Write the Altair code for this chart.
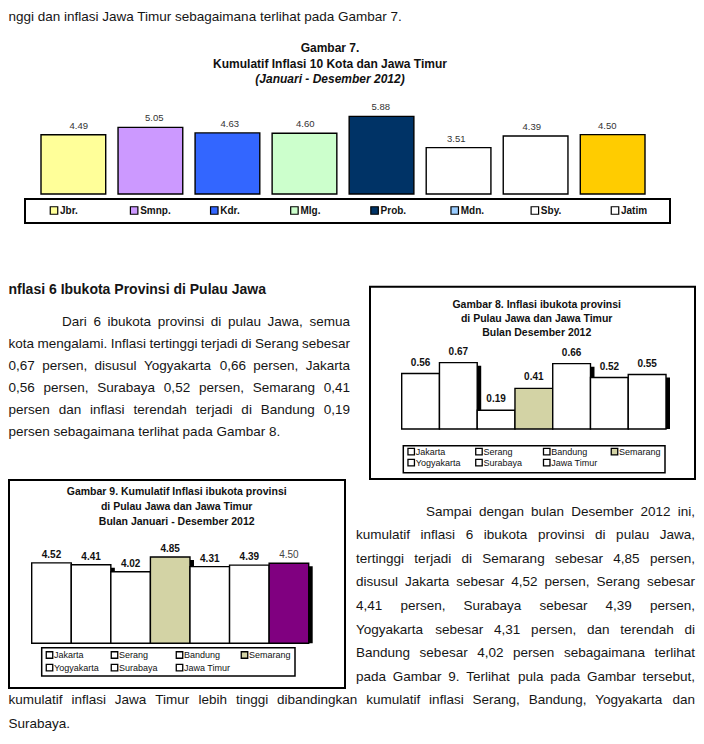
import altair as alt
import pandas as pd

# ------------------------------------------------------------------ data
g7_kota = ["Jbr.", "Smnp.", "Kdr.", "Mlg.", "Prob.", "Mdn.", "Sby.", "Jatim"]
g7_nilai = [4.49, 5.05, 4.63, 4.60, 5.88, 3.51, 4.39, 4.50]
g7_warna_batang = ["#FFFF99", "#CC99FF", "#3366FF", "#CCFFCC", "#003366", "#FFFFFF", "#FFFFFF", "#FFCC00"]
g7_warna_legenda = ["#FFFF99", "#CC99FF", "#3366FF", "#CCFFCC", "#003366", "#99CCFF", "#FFFFFF", "#FFFFFF"]
g7_judul = ["Gambar  7.", "Kumulatif Inflasi 10 Kota dan Jawa Timur"]
g7_subjudul = "(Januari - Desember 2012)"

ibukota = ["Jakarta", "Serang", "Bandung", "Semarang", "Yogyakarta", "Surabaya", "Jawa Timur"]
g8_nilai = [0.56, 0.67, 0.19, 0.41, 0.66, 0.52, 0.55]
g9_nilai = [4.52, 4.41, 4.02, 4.85, 4.31, 4.39, 4.50]
g8_warna = ["#FFFFFF", "#FFFFFF", "#FFFFFF", "#D3D3A5", "#FFFFFF", "#FFFFFF", "#FFFFFF"]
g9_warna = ["#FFFFFF", "#FFFFFF", "#FFFFFF", "#D3D3A5", "#FFFFFF", "#FFFFFF", "#800080"]
legenda_warna = ["#FFFFFF", "#FFFFFF", "#FFFFFF", "#D3D3A5", "#FFFFFF", "#FFFFFF", "#FFFFFF"]
g8_judul = ["Gambar 8.  Inflasi ibukota provinsi", "di Pulau Jawa dan Jawa Timur", "Bulan Desember 2012"]
g9_judul = ["Gambar 9.  Kumulatif Inflasi ibukota provinsi", "di Pulau Jawa dan Jawa Timur",
            "Bulan Januari - Desember 2012"]

teks_atas = "nggi dan inflasi Jawa Timur sebagaimana terlihat pada Gambar 7."
judul_bagian = "nflasi 6 Ibukota Provinsi di Pulau Jawa"
paragraf_1 = [
    "Dari 6 ibukota provinsi di pulau Jawa, semua",
    "kota mengalami. Inflasi tertinggi terjadi di Serang sebesar",
    "0,67 persen, disusul Yogyakarta 0,66 persen, Jakarta",
    "0,56 persen, Surabaya 0,52 persen, Semarang 0,41",
    "persen dan inflasi terendah terjadi di Bandung 0,19",
    "persen  sebagaimana terlihat pada Gambar 8.",
]
paragraf_2 = [
    "Sampai dengan bulan Desember 2012 ini,",
    "kumulatif inflasi 6 ibukota provinsi di pulau Jawa,",
    "tertinggi terjadi di Semarang sebesar 4,85 persen,",
    "disusul Jakarta sebesar 4,52 persen, Serang sebesar",
    "4,41 persen, Surabaya sebesar 4,39 persen,",
    "Yogyakarta sebesar 4,31 persen, dan terendah di",
    "Bandung sebesar 4,02 persen sebagaimana terlihat",
    "pada Gambar 9. Terlihat pula pada Gambar tersebut,",
]
paragraf_3 = [
    "kumulatif inflasi Jawa Timur lebih tinggi dibandingkan kumulatif inflasi Serang, Bandung, Yogyakarta dan",
    "Surabaya.",
]

# ------------------------------------------------------------------ layout helpers
FONT = "Liberation Sans"
W, H = 688, 728


def px(v):
    """page pixel -> chart pixel (page has an 8px margin)"""
    return v - 8


AW = {" ": 278, ",": 278, ".": 278, "-": 333, "(": 333, ")": 333, ":": 278}
for c in "0123456789":
    AW[c] = 556
AW.update(dict(zip("abcdefghijklmnopqrstuvwxyz",
                   [556, 556, 500, 556, 556, 278, 556, 556, 222, 222, 500, 222, 833,
                    556, 556, 556, 556, 333, 500, 278, 556, 500, 722, 500, 500, 500])))
AW.update(dict(zip("ABCDEFGHIJKLMNOPQRSTUVWXYZ",
                   [667, 667, 722, 722, 667, 611, 778, 722, 278, 500, 667, 556, 833,
                    722, 778, 667, 778, 722, 667, 611, 722, 667, 944, 667, 667, 611])))


def tw(s, fs):
    return sum(AW.get(c, 556) for c in s) * fs / 1000.0


BODY_FS = 13.5


def lay_line(text, left, right, y, justify):
    words = text.split()
    if not justify or len(words) < 2:
        return [dict(t=text, x=left, y=y)]
    ws = [tw(w, BODY_FS) for w in words]
    gap = (right - left - sum(ws)) / (len(words) - 1)
    out, x = [], left
    for w, wd in zip(words, ws):
        out.append(dict(t=w, x=x, y=y))
        x += wd + gap
    return out


rows = []
rows += lay_line(teks_atas, 0.5, 0, px(17), False)
# paragraph 1 (left column)
p1_left = [px(62), 0.5, 0.5, 0.5, 0.5, 0.5]
for i, line in enumerate(paragraf_1):
    rows += lay_line(line, p1_left[i], px(350), px(321.7 + 22 * i), i < len(paragraf_1) - 1)
# paragraph 2 (right column)
for i, line in enumerate(paragraf_2):
    rows += lay_line(line, px(426) if i == 0 else px(356), W - 1, px(511.5 + 23.6 * i), True)
# paragraph 3 (full width)
for i, line in enumerate(paragraf_3):
    rows += lay_line(line, 0.5, W - 1, px(511.5 + 23.6 * (8 + i)), i == 0)
body_df = pd.DataFrame(rows)

body = alt.Chart(body_df).mark_text(
    font=FONT, fontSize=BODY_FS, align="left", baseline="middle", color="#151515"
).encode(x=alt.X("x:Q", scale=None, axis=None), y=alt.Y("y:Q", scale=None, axis=None), text="t:N")

heading = alt.Chart(pd.DataFrame([dict(t=judul_bagian, x=0.5, y=px(290))])).mark_text(
    font=FONT, fontSize=14, fontWeight="bold", align="left", baseline="middle", color="#151515"
).encode(x=alt.X("x:Q", scale=None, axis=None), y=alt.Y("y:Q", scale=None, axis=None), text="t:N")

# ------------------------------------------------------------------ frames
boxes = pd.DataFrame([
    dict(x1=px(25), x2=px(670), y1=px(199), y2=px(223), sw=2.0),      # legend Gambar 7
    dict(x1=px(370), x2=W - 1, y1=px(286.7), y2=px(479), sw=2.0),     # frame Gambar 8
    dict(x1=px(403.3), x2=px(665), y1=px(445.7), y2=px(472.7), sw=1.5),  # legend Gambar 8
    dict(x1=1, x2=px(345), y1=px(480), y2=px(688), sw=2.0),            # frame Gambar 9
    dict(x1=px(41.7), x2=px(295), y1=px(647.7), y2=px(676), sw=1.5),   # legend Gambar 9
])
frames = alt.Chart(boxes).mark_rect(fillOpacity=0, stroke="black").encode(
    x=alt.X("x1:Q", scale=None, axis=None), x2="x2:Q",
    y=alt.Y("y1:Q", scale=None, axis=None), y2="y2:Q",
    strokeWidth=alt.StrokeWidth("sw:Q", scale=None),
)


def title_layer(lines, cx, ys, fs, italic=False):
    df = pd.DataFrame(dict(t=lines, x=[cx] * len(lines), y=ys))
    kw = dict(fontStyle="italic") if italic else {}
    return alt.Chart(df).mark_text(font=FONT, fontSize=fs, fontWeight="bold", align="center",
                                   baseline="middle", color="#111", **kw).encode(
        x=alt.X("x:Q", scale=None, axis=None), y=alt.Y("y:Q", scale=None, axis=None), text="t:N")


# ------------------------------------------------------------------ Gambar 7
df7 = pd.DataFrame({"kota": g7_kota, "nilai": g7_nilai, "warna": g7_warna_batang,
                    "lwarna": g7_warna_legenda})
x7 = alt.X("kota:N", axis=None,
           scale=alt.Scale(domain=g7_kota, range=[px(41), px(645)], paddingInner=0.16, paddingOuter=0))
y7 = alt.Y("nilai:Q", axis=None,
           scale=alt.Scale(domain=[0, 6], range=[px(194), px(194 - 6 * 13.2)], nice=False))
bar7 = alt.Chart(df7).mark_bar(stroke="black", strokeWidth=1.4).encode(
    x=x7, y=y7, fill=alt.Fill("warna:N", scale=None))
lab7 = alt.Chart(df7).mark_text(font=FONT, dy=-9, fontSize=9.5, color="#333").encode(
    x=x7, y=y7, text=alt.Text("nilai:Q", format=".2f"))
lx7 = alt.X("kota:N", axis=None,
            scale=alt.Scale(type="point", domain=g7_kota, range=[px(54), px(615)], padding=0))
ly7 = alt.Y("r:Q", axis=None, scale=None)
leg7_sq = alt.Chart(df7).transform_calculate(r=str(px(210.5))).mark_square(
    size=56, stroke="black", strokeWidth=1.2, opacity=1).encode(
    x=lx7, y=ly7, fill=alt.Fill("lwarna:N", scale=None))
leg7_tx = alt.Chart(df7).transform_calculate(r=str(px(210.5))).mark_text(
    font=FONT, fontSize=10, fontWeight="bold", align="left", dx=6, color="#111").encode(
    x=lx7, y=ly7, text="kota:N")
title7 = title_layer(g7_judul, px(330), [px(48), px(63.5)], 12)
sub7 = title_layer([g7_subjudul], px(330), [px(79)], 12, italic=True)


# ------------------------------------------------------------------ Gambar 8 / 9
def city_chart(values, colors, xr, base, per_unit, ymax, label_dy, title_lines, title_cx, title_ys,
               leg_cols, leg_rows, purple_label):
    n = len(ibukota)
    df = pd.DataFrame({"kota": ibukota, "nilai": values, "warna": colors, "lwarna": legenda_warna,
                       "idx": list(range(n))})
    xs = alt.X("kota:N", axis=None,
               scale=alt.Scale(domain=ibukota, range=[px(xr[0]), px(xr[1])], paddingInner=0, paddingOuter=0))
    ys = alt.Y("nilai:Q", axis=None,
               scale=alt.Scale(domain=[0, ymax], range=[px(base), px(base - ymax * per_unit)], nice=False))
    # drop shadow: the same bars on a copy of the scales moved 4 px right and 3 px down
    xq = alt.X("idx:Q", axis=None,
               scale=alt.Scale(domain=[0, n], range=[px(xr[0]) + 4, px(xr[1]) + 4], nice=False, zero=False))
    ys_sh = alt.Y("nilai:Q", axis=None,
                  scale=alt.Scale(domain=[0, ymax], range=[px(base) + 3, px(base - ymax * per_unit) + 3],
                                  nice=False))
    shadow = alt.Chart(df).transform_calculate(i2="datum.idx + 1").mark_rect(
        fill="black", opacity=1).encode(x=xq, x2="i2:Q", y=ys_sh, y2=alt.value(px(base)))
    bars = alt.Chart(df).mark_bar(stroke="black", strokeWidth=1.4).encode(
        x=xs, y=ys, fill=alt.Fill("warna:N", scale=None))
    if purple_label:
        lab_b = alt.Chart(df).transform_filter(alt.datum.kota != "Jawa Timur").mark_text(
            font=FONT, fontSize=10, fontWeight="bold", dy=label_dy, color="#111").encode(
            x=xs, y=ys, text=alt.Text("nilai:Q", format=".2f"))
        lab_n = alt.Chart(df).transform_filter(alt.datum.kota == "Jawa Timur").mark_text(
            font=FONT, fontSize=10, dy=label_dy, color="#444").encode(
            x=xs, y=ys, text=alt.Text("nilai:Q", format=".2f"))
        labs = [lab_b, lab_n]
    else:
        labs = [alt.Chart(df).mark_text(font=FONT, fontSize=10, fontWeight="bold", dy=label_dy,
                                        color="#111").encode(
            x=xs, y=ys, text=alt.Text("nilai:Q", format=".2f"))]
    ldf = alt.Chart(df).transform_calculate(col="datum.idx % 4", row="floor(datum.idx / 4)")
    lx = alt.X("col:O", axis=None,
               scale=alt.Scale(type="point", domain=[0, 1, 2, 3], range=[px(leg_cols[0]), px(leg_cols[1])],
                               padding=0))
    ly = alt.Y("row:O", axis=None,
               scale=alt.Scale(type="point", domain=[0, 1], range=[px(leg_rows[0]), px(leg_rows[1])],
                               padding=0))
    sq = ldf.mark_square(size=42, stroke="black", strokeWidth=1.3, opacity=1).encode(
        x=lx, y=ly, fill=alt.Fill("lwarna:N", scale=None))
    tx = ldf.mark_text(font=FONT, fontSize=9, align="left", dx=4.5, color="#111").encode(
        x=lx, y=ly, text="kota:N")
    ttl = title_layer(title_lines, px(title_cx), [px(v) for v in title_ys], 10.5)
    return [shadow, bars] + labs + [sq, tx, ttl]


g8_layers = city_chart(g8_nilai, g8_warna, (401.7, 666), 429, 99, 1, -11, g8_judul, 536.7,
                       (305, 319.3, 333.3), (411.2, 614.5), (451.7, 462.7), False)
g9_layers = city_chart(g9_nilai, g9_warna, (31.7, 308.7), 643.3, 17.8, 5, -8, g9_judul, 176.7,
                       (491.7, 507.3, 521.7), (49.5, 244.5), (655, 667.7), True)

chart = alt.layer(
    frames, body, heading,
    title7, sub7, bar7, lab7, leg7_sq, leg7_tx,
    *g8_layers, *g9_layers,
).resolve_scale(x="independent", y="independent").properties(
    width=W, height=H, padding=0, autosize=alt.AutoSizeParams(type="none"), background="white"
).configure_view(strokeWidth=0)

chart.save("out.html", embed_options={"renderer": "svg", "actions": False})
